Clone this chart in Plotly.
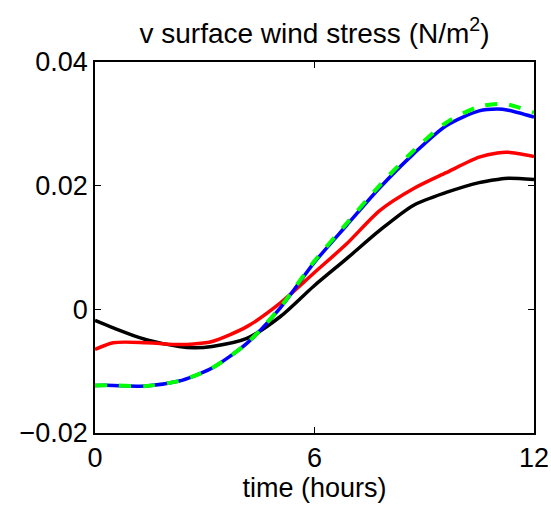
import plotly.graph_objects as go

hours = [0, 0.5, 1.4, 2.3, 2.7, 3.2, 4.15, 5.06, 5.97, 6.88, 7.79, 8.7, 9.6, 10.5, 11.0, 11.3, 12]

black = [-0.0018, -0.0030, -0.0049, -0.0060, -0.0062, -0.0060, -0.0047, -0.0012, 0.0037, 0.0082, 0.0128, 0.0168, 0.0189, 0.0205, 0.0210, 0.0212, 0.0210]
red = [-0.0065, -0.0054, -0.0054, -0.0057, -0.0056, -0.0052, -0.0028, 0.0010, 0.0058, 0.0106, 0.0160, 0.0195, 0.0221, 0.0246, 0.0253, 0.0254, 0.0247]
blue = [-0.0123, -0.0123, -0.0124, -0.0116, -0.0108, -0.0095, -0.0055, 0.0002, 0.0074, 0.0136, 0.0197, 0.0251, 0.0297, 0.0321, 0.0324, 0.0322, 0.0311]
green = [-0.0123, -0.0123, -0.0124, -0.0116, -0.0108, -0.0095, -0.0055, 0.0003, 0.0076, 0.0139, 0.0201, 0.0256, 0.0302, 0.0328, 0.0332, 0.0331, 0.0318]

x_ticks = [0, 6, 12]
y_ticks = [-0.02, 0, 0.02, 0.04]
y_tick_labels = ["\u22120.02", "0", "0.02", "0.04"]

fig = go.Figure()
fig.add_trace(go.Scatter(x=hours, y=black, mode="lines", line=dict(color="black", width=3.5, shape="spline", smoothing=0.8)))
fig.add_trace(go.Scatter(x=hours, y=red, mode="lines", line=dict(color="#ff0000", width=3.5, shape="spline", smoothing=0.8)))
fig.add_trace(go.Scatter(x=hours, y=blue, mode="lines", line=dict(color="#0000ff", width=3.5, shape="spline", smoothing=0.8)))
fig.add_trace(go.Scatter(x=hours, y=green, mode="lines", line=dict(color="#00ff00", width=4, dash="dash", shape="spline", smoothing=0.8)))

font_family = "Liberation Sans, Arial, sans-serif"
fs = 27
fig.update_layout(
    width=551, height=508,
    margin=dict(l=95, r=17, t=62, b=75, autoexpand=False),
    paper_bgcolor="white", plot_bgcolor="white",
    showlegend=False,
    font=dict(family=font_family, size=fs, color="black"),
    title=dict(text="v surface wind stress (N/m<sup>2</sup>)", x=0.5, xanchor="center", xref="paper",
               y=0.935, yanchor="middle", font=dict(size=28, family=font_family, color="black")),
    xaxis=dict(range=[0, 12], tickvals=x_ticks, ticktext=[str(v) for v in x_ticks], automargin=False,
               showgrid=False, zeroline=False, showline=True, linecolor="black", linewidth=1.5,
               mirror="allticks", ticks="inside", ticklen=6, tickcolor="black",
               title=dict(text="time (hours)", standoff=0, font=dict(size=fs)), tickfont=dict(size=fs)),
    yaxis=dict(range=[-0.02, 0.04], tickvals=y_ticks, ticktext=y_tick_labels, automargin=False,
               showgrid=False, zeroline=False, showline=True, linecolor="black", linewidth=1.5,
               mirror="allticks", ticks="inside", ticklen=6, tickcolor="black", tickfont=dict(size=fs)),
)
fig.write_html("out.html")
